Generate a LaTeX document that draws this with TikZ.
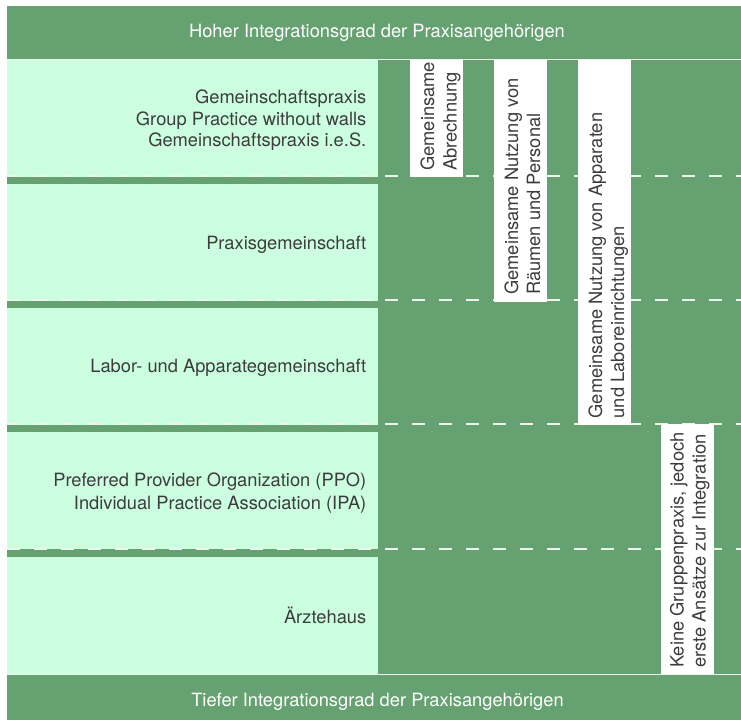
\documentclass[tikz,border=0pt]{standalone}
\usepackage{fontspec}
\setmainfont{TeX Gyre Heros}
\definecolor{dkgreen}{RGB}{102,161,114}
\definecolor{ltgreen}{RGB}{204,255,224}
\definecolor{txtgray}{RGB}{60,60,60}
\definecolor{sepwhite}{RGB}{235,245,237}
\newcommand\myfs{\fontsize{18.3}{22}\selectfont}
\begin{document}
\begin{tikzpicture}[x=1pt,y=-1pt,
  lbl/.style={inner sep=0pt, anchor=base east, text=txtgray, font=\myfs},
  vlbl/.style={inner sep=0pt, anchor=base west, rotate=90, text=txtgray, font=\myfs},
  bandtext/.style={inner sep=0pt, anchor=base, text=white, font=\myfs},
  rowbox/.style={fill=ltgreen},
  colbox/.style={fill=white},
  sepline/.style={draw=sepwhite, line width=1.5pt, dash pattern=on 13pt off 14pt},
  thinline/.style={draw=sepwhite, line width=1pt}]
\useasboundingbox (0,0) rectangle (741,720);
% background
\fill[dkgreen] (7,6) rectangle (741,720);
% rows
\fill[rowbox] (7,60) rectangle (377.5,176.5);
\fill[rowbox] (7,184) rectangle (377.5,300.5);
\fill[rowbox] (7,308) rectangle (377.5,424.5);
\fill[rowbox] (7,432) rectangle (377.5,549);
\fill[rowbox] (7,557) rectangle (377.5,674);
% thin lines
\draw[thinline] (7,59) -- (741,59);
\draw[thinline] (7,674.5) -- (741,674.5);
% dashed separators
\foreach \yy in {176,300,424,549} \draw[sepline] (7,\yy) -- (741,\yy);
% white column boxes
\fill[colbox] (410,60) rectangle (463,177);
\fill[colbox] (494,60) rectangle (547,301.7);
\fill[colbox] (578,60) rectangle (631,425);
\fill[colbox] (661,424) rectangle (714,674);
% header / footer
\node[bandtext] (hdr) at (377,37.3) {Hoher Integrationsgrad der Praxisangehörigen};
\node[bandtext] (ftr) at (377.5,706.7) {Tiefer Integrationsgrad der Praxisangehörigen};
% left labels
\node[lbl] (r1a) at (366.5,103.3) {Gemeinschaftspraxis};
\node[lbl] (r1b) at (366.5,125) {Group Practice without walls};
\node[lbl] (r1c) at (366.5,146.5) {Gemeinschaftspraxis i.e.S.};
\node[lbl] (r2) at (366.5,249.3) {Praxisgemeinschaft};
\node[lbl] (r3) at (366.5,372.5) {Labor- und Apparategemeinschaft};
\node[lbl] (r4a) at (366.5,486.7) {Preferred Provider Organization (PPO)};
\node[lbl] (r4b) at (366.5,509) {Individual Practice Association (IPA)};
\node[lbl] (r5) at (366.5,623.3) {Ärztehaus};
% vertical labels
\node[vlbl] (c1a) at (434,171) {Gemeinsame};
\node[vlbl] (c1b) at (456.5,171) {Abrechnung};
\node[vlbl] (c2a) at (518,295) {Gemeinsame Nutzung von};
\node[vlbl] (c2b) at (540,295) {Räumen und Personal};
\node[vlbl] (c3a) at (602,418.5) {Gemeinsame Nutzung von Apparaten};
\node[vlbl] (c3b) at (624,418.5) {und Laboreinrichtungen};
\node[vlbl] (c4a) at (683.5,668) {Keine Gruppenpraxis, jedoch};
\node[vlbl] (c4b) at (705.5,668) {erste Ansätze zur Integration};
\end{tikzpicture}
\end{document}
